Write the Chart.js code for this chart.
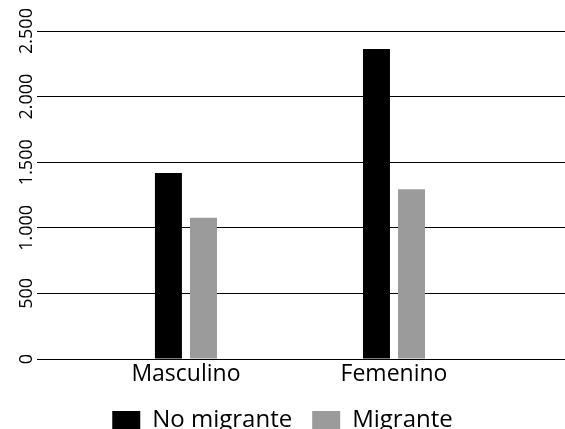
<!DOCTYPE html>
<html>
<head>
<meta charset="utf-8">
<script src="https://cdn.jsdelivr.net/npm/chart.js@4"></script>
<style>
  html, body { margin: 0; padding: 0; background: #fff; }
  #wrap { width: 565px; height: 429px; position: relative; }
</style>
</head>
<body>
<div id="wrap"><canvas id="chart"></canvas></div>
<script>
const categories = ['Masculino', 'Femenino'];
const noMigrante = [1418, 2362];
const migrante = [1076, 1294];
const yTicks = [0, 500, 1000, 1500, 2000, 2500];

const fontFamily = "'Open Sans', 'Noto Sans', sans-serif";

function fmt(v) {
  return String(v).replace(/\B(?=(\d{3})+(?!\d))/g, '.');
}

const toPoints = arr => arr.map((v, i) => ({ x: i, y: v }));

const chart = new Chart(document.getElementById('chart').getContext('2d'), {
  type: 'bar',
  data: {
    datasets: [
      {
        label: 'No migrante',
        data: toPoints(noMigrante),
        backgroundColor: '#000000',
        borderWidth: 0,
        categoryPercentage: 0.337,
        barPercentage: 0.77,
      },
      {
        label: 'Migrante',
        data: toPoints(migrante),
        backgroundColor: '#9b9b9b',
        borderWidth: 0,
        categoryPercentage: 0.337,
        barPercentage: 0.77,
      },
    ],
  },
  options: {
    responsive: true, maintainAspectRatio: false,
    animation: false,
    layout: { padding: { top: 31, right: 0, left: 0, bottom: -13 } },
    plugins: {
      tooltip: { enabled: false },
      legend: {
        position: 'bottom',
        labels: {
          color: '#000',
          font: { family: fontFamily, size: 24 },
          boxWidth: 28,
          boxHeight: 18,
          padding: 20,
        },
      },
    },
    scales: {
      x: {
        type: 'linear',
        offset: false,
        bounds: 'data',
        min: -0.716,
        max: 1.822,
        afterFit: s => { s.height = 29; },
        grid: { display: false },
        border: { display: false },
        afterBuildTicks: s => { s.ticks = categories.map((c, i) => ({ value: i })); },
        ticks: {
          color: '#000',
          font: { family: fontFamily, size: 23 },
          padding: -6,
          maxRotation: 0,
          autoSkip: false,
          callback: v => categories[v],
        },
      },
      y: {
        min: 0, max: 2500,
        afterFit: s => { s.width = 37; },
        afterBuildTicks: s => { s.ticks = yTicks.map(v => ({ value: v })); },
        grid: { color: '#000', lineWidth: 1, drawTicks: false },
        border: { display: false },
        ticks: {
          color: '#000',
          font: { family: fontFamily, size: 18 },
          minRotation: 90, maxRotation: 90,
          crossAlign: 'center',
          padding: -13,
          callback: v => fmt(v),
        },
      },
    },
  },
});
</script>
</body>
</html>
